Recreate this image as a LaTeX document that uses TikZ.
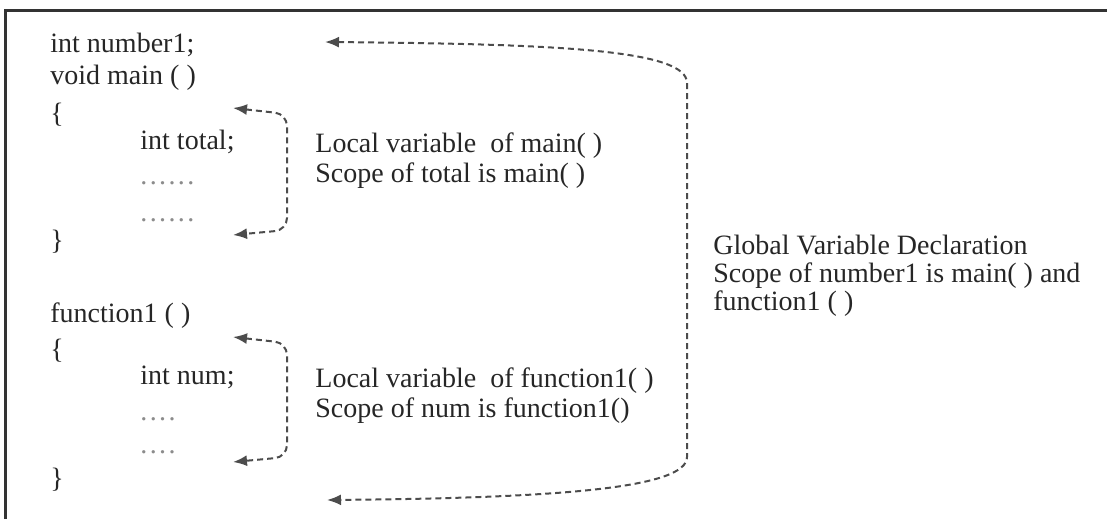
\documentclass[tikz,border=0pt]{standalone}
\usepackage{fontspec}
\setmainfont{Liberation Serif}
\usetikzlibrary{arrows.meta}
\newcommand{\spdot}{.\kern1.2pt}
\tikzset{
  code/.style={anchor=base west,inner sep=0pt,text=black!85,font=\fontsize{14}{16}\selectfont},
  codedots/.style={code,text=black!45},
  scopearrow/.style={{Latex[length=7pt,width=5.5pt]}-{Latex[length=7pt,width=5.5pt]},
    dash pattern=on 3pt off 2pt,line width=1pt,draw=black!70,rounded corners=6pt}
}
\begin{document}
\begin{tikzpicture}[x=0.5pt,y=-0.5pt]
  \useasboundingbox (0,0) rectangle (1107,519);
  \draw[line width=1.5pt,black!80] (5.5,519) |- (1107,10.5);
  % program text
  \node[code] (glob)  at (50,53)   {int number1;};
  \node[code] (mainf) at (50,85)   {void main ( )};
  \node[code] (mopen) at (50,122)  {\{};
  \node[code] (total) at (140,149) {int total;};
  \node[codedots] (mdot1) at (140,184) {\spdot\spdot\spdot\spdot\spdot.};
  \node[codedots] (mdot2) at (140,221) {\spdot\spdot\spdot\spdot\spdot.};
  \node[code] (mclose) at (50,249) {\}};
  \node[code] (func)  at (50,322)  {function1 ( )};
  \node[code] (fopen) at (50,358)  {\{};
  \node[code] (num)   at (140,384) {int num;};
  \node[codedots] (fdot1) at (140,420) {\spdot\spdot\spdot.};
  \node[codedots] (fdot2) at (140,453) {\spdot\spdot\spdot.};
  \node[code] (fclose) at (50,487) {\}};
  % notes
  \node[code] (mloc)   at (315,152) {Local variable\ \ of main( )};
  \node[code] (mscope) at (315,182) {Scope of total is main( )};
  \node[code] (floc)   at (315,387) {Local variable\ \ of function1( )};
  \node[code] (fscope) at (315,417) {Scope of num is function1()};
  \node[code] (gdecl)  at (713,254) {Global Variable Declaration};
  \node[code] (gscope) at (713,282) {Scope of number1 is main( ) and};
  \node[code] (gfunc)  at (713,310) {function1 ( )};
  % scope arrows
  \coordinate (mtop) at (233,108);
  \coordinate (mbot) at (233,235);
  \coordinate (ftop) at (233,337);
  \coordinate (fbot) at (233,462);
  \coordinate (gtop) at (325,42);
  \coordinate (gbot) at (327,500);
  \draw[scopearrow] (mtop) -- (287,114) -- (287,230) -- (mbot);
  \draw[scopearrow] (ftop) -- (287,343) -- (287,457) -- (fbot);
  \draw[scopearrow] (gtop) .. controls (560,44) and (687,50) .. (687,95)
    -- (687,445) .. controls (687,488) and (560,498) .. (gbot);
\end{tikzpicture}
\end{document}
